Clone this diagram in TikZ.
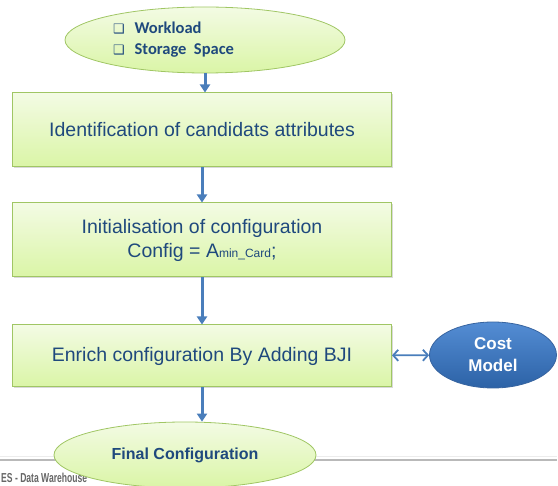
\documentclass[tikz,border=0pt]{standalone}
\usepackage{fontspec}
\setmainfont{Liberation Sans}
\newfontfamily\calibri{Carlito}
\newfontfamily\symfont{DejaVu Sans}
\usepackage{tikz}
\usetikzlibrary{arrows.meta, positioning, shapes.geometric, shadows}

\definecolor{txtblue}{RGB}{31,73,125}
\definecolor{flowblue}{RGB}{74,126,187}
\definecolor{boxtop}{RGB}{243,251,228}
\definecolor{boxbot}{RGB}{218,245,166}
\definecolor{boxline}{RGB}{160,198,100}
\definecolor{costtop}{RGB}{84,141,212}
\definecolor{costbot}{RGB}{44,98,166}
\definecolor{costline}{RGB}{55,100,160}

\begin{document}
\begin{tikzpicture}[x=1pt, y=-1pt,
    stepbox/.style={rectangle, draw=boxline, line width=1pt, top color=boxtop, bottom color=boxbot,
      minimum width=379pt, minimum height=74pt, inner sep=0pt, text=txtblue, align=center,
      font=\fontsize{19.5}{24}\selectfont,
      drop shadow={shadow xshift=1.5pt, shadow yshift=-1.5pt, opacity=0.3}},
    endpoint/.style={ellipse, draw=boxline, line width=0.8pt, top color=boxtop, bottom color=boxbot,
      inner sep=0pt, minimum height=66pt, text=txtblue},
    flow/.style={draw=flowblue, line width=3pt, -{Triangle[length=8pt, width=10pt]}},
    link/.style={draw=flowblue, line width=1.8pt, {Straight Barb[length=5pt, width=11pt]}-{Straight Barb[length=5pt, width=11pt]}},
  ]
  \useasboundingbox (0,0) rectangle (558,486);

  % footer of the slide
  \draw[gray!15, line width=1pt] (0,457) -- (557,457);
  \draw[gray!55, line width=1.5pt] (0,460) -- (557,460);
  \node[anchor=west, inner sep=0pt, text=gray!80!black, font=\bfseries\fontsize{13}{14}\selectfont] (footer) at (1,478)
    {\scalebox{0.66}[1]{ES - Data Warehouse}};

  \node[endpoint, minimum width=280pt, font=\calibri\bfseries\fontsize{16.5}{21}\selectfont] (input) at (205,40)
    {\begin{tabular}{@{}l@{\hspace{63pt}}}
      {\symfont\fontsize{13}{13}\selectfont ❑}\hspace{10pt}Workload\\
      {\symfont\fontsize{13}{13}\selectfont ❑}\hspace{10pt}Storage\ \ Space
    \end{tabular}};

  \node[stepbox] (ident) at (202,130) {Identification of candidats attributes};
  \node[stepbox] (init) at (202,240)
    {Initialisation of configuration\\Config = A{\fontsize{12}{12}\selectfont min\_Card};};
  \node[stepbox, minimum height=62pt] (enrich) at (202,356) {Enrich configuration By Adding BJI};

  \node[ellipse, draw=costline, line width=0.8pt, top color=costtop, bottom color=costbot,
    minimum width=127pt, minimum height=66pt, inner sep=0pt, text=white, align=center,
    font=\bfseries\fontsize{17}{22}\selectfont] (cost) at (493,355) {Cost\\Model};

  \node[endpoint, minimum width=262pt, font=\bfseries\fontsize{16}{19}\selectfont] (final) at (185,455)
    {Final Configuration};

  \draw[flow] (input.south) -- (input.south |- ident.north);
  \draw[flow] (ident) -- (init);
  \draw[flow] (init) -- (enrich);
  \draw[flow] (enrich.south) -- (enrich.south |- final.north);
  \draw[link] (enrich) -- (cost);
\end{tikzpicture}
\end{document}
